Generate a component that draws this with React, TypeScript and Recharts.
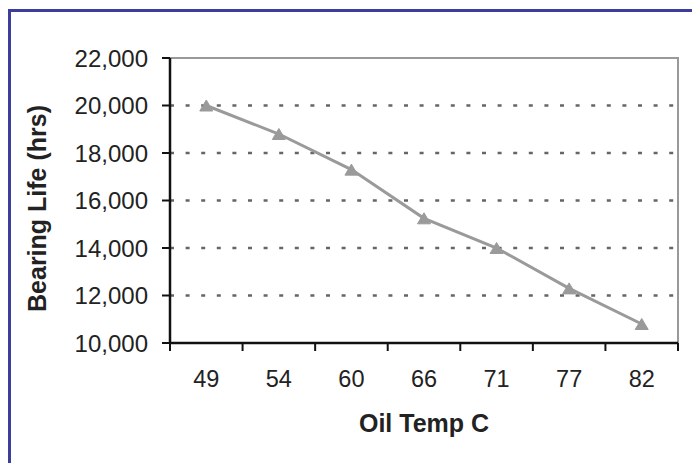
import React from 'react';
import { LineChart, Line, XAxis, YAxis, ReferenceLine, ReferenceArea, Label } from 'recharts';

const categories = ['49', '54', '60', '66', '71', '77', '82'];
const bearingLife = [20000, 18800, 17300, 15250, 14000, 12300, 10800];
const yTicks = [10000, 12000, 14000, 16000, 18000, 20000, 22000];
const gridValues = [12000, 14000, 16000, 18000, 20000];

const data = categories.map((c, i) => ({ x: i + 0.5, label: c, life: bearingLife[i] }));
// tick positions: category boundaries (integers, tick marks) and centres (labels)
const xTicks = Array.from({ length: categories.length * 2 + 1 }, (_, i) => i / 2);

const FONT = '"Liberation Sans", Arial, Helvetica, sans-serif';
const TICK_SIZE = 8;

const Triangle = (props: any) => {
  const { cx, cy } = props;
  if (cx == null || cy == null) return null;
  const w = 13, h = 11;
  return (
    <polygon
      points={`${cx - w / 2},${cy + h / 2} ${cx + w / 2},${cy + h / 2} ${cx},${cy - h / 2}`}
      fill="#9a9a9a"
      stroke="#9a9a9a"
      strokeWidth={1}
    />
  );
};

const XTick = (props: any) => {
  const { x, y, payload } = props;
  const v = payload.value;
  if (Number.isInteger(v)) {
    return <line x1={x} x2={x} y1={y - TICK_SIZE} y2={y} stroke="#111" strokeWidth={2} />;
  }
  const idx = Math.floor(v);
  return (
    <text x={x} y={y} dy={36} textAnchor="middle" fontFamily={FONT} fontSize={23.5} fill="#222">
      {categories[idx]}
    </text>
  );
};

export default function App() {
  return (
    <div style={{ position: 'absolute', left: 0, top: 0, width: 692, height: 463, background: '#fff', overflow: 'hidden' }}>
      <div
        style={{
          position: 'absolute',
          left: 8,
          top: 9,
          width: 700,
          height: 470,
          borderTop: '3px solid #3d3d9c',
          borderLeft: '3px solid #3d3d9c',
        }}
      />
      <div style={{ position: 'absolute', left: 0, top: 0 }}>
        <LineChart width={692} height={463} data={data} margin={{ top: 58, right: 14, bottom: 0, left: 0 }}>
          <XAxis
            type="number"
            dataKey="x"
            domain={[0, categories.length]}
            allowDataOverflow
            ticks={xTicks}
            interval={0}
            tick={<XTick />}
            tickLine={false}
            axisLine={{ stroke: '#111', strokeWidth: 2.5 }}
            tickSize={TICK_SIZE}
            tickMargin={0}
            height={120}
          >
            <Label
              value="Oil Temp C"
              content={(p: any) => {
                const vb = p.viewBox;
                return (
                  <text x={vb.x + vb.width / 2} y={432} textAnchor="middle" fontFamily={FONT} fontSize={25} fontWeight="bold" fill="#222">
                    Oil Temp C
                  </text>
                );
              }}
            />
          </XAxis>
          <YAxis
            type="number"
            domain={[10000, 22000]}
            ticks={yTicks}
            interval={0}
            width={170}
            tickSize={8}
            tickMargin={14}
            tickLine={{ stroke: '#111', strokeWidth: 2 }}
            axisLine={{ stroke: '#111', strokeWidth: 2.5 }}
            tick={{ fontFamily: FONT, fontSize: 24, fill: '#222' }}
            tickFormatter={(v: number) => v.toLocaleString('en-US')}
          >
            <Label
              value="Bearing Life (hrs)"
              content={(p: any) => {
                const vb = p.viewBox;
                const cx = 46;
                const cy = vb.y + vb.height / 2 + 8;
                return (
                  <text
                    x={cx}
                    y={cy}
                    transform={`rotate(-90 ${cx} ${cy})`}
                    textAnchor="middle"
                    fontFamily={FONT}
                    fontSize={25}
                    fontWeight="bold"
                    fill="#222"
                  >
                    Bearing Life (hrs)
                  </text>
                );
              }}
            />
          </YAxis>
          <ReferenceArea x1={0} x2={categories.length} y1={10000} y2={22000} fill="none" stroke="#999" strokeWidth={2} />
          {gridValues.map((v) => (
            <ReferenceLine key={v} y={v} stroke="#666" strokeWidth={2.4} strokeDasharray="4 11.6" />
          ))}
          <Line
            dataKey="life"
            stroke="#9a9a9a"
            strokeWidth={3}
            dot={<Triangle />}
            activeDot={false}
            isAnimationActive={false}
          />
        </LineChart>
      </div>
    </div>
  );
}
